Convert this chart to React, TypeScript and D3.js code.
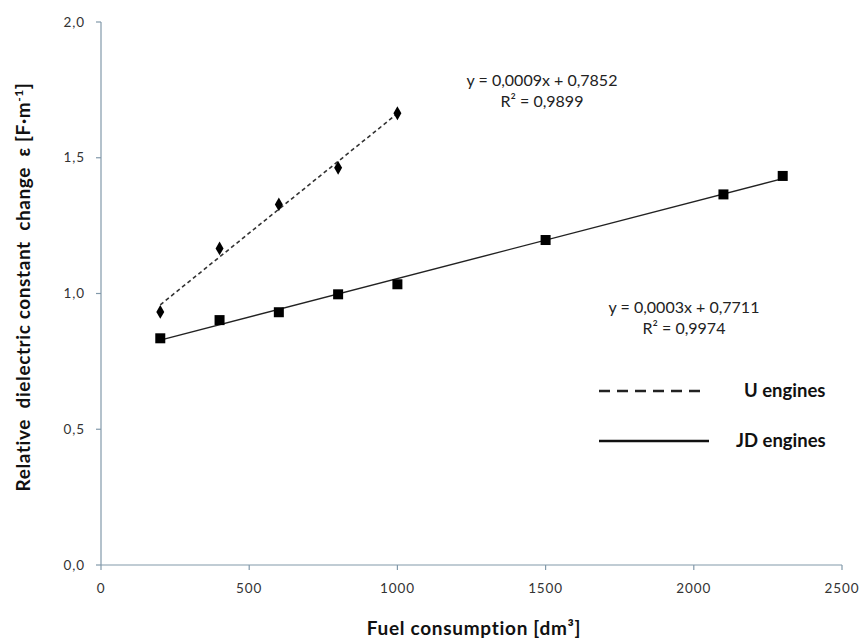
import React from 'react';
import * as d3 from 'd3';

// U engines (diamonds)
const uFuel = [200, 400, 600, 800, 1000];
const uEps = [0.932, 1.166, 1.328, 1.463, 1.664];

// JD engines (squares)
const jdFuel = [200, 400, 600, 800, 1000, 1500, 2100, 2300];
const jdEps = [0.835, 0.902, 0.931, 0.997, 1.034, 1.197, 1.365, 1.433];

const xTicks = [0, 500, 1000, 1500, 2000, 2500];
const yTicks = [0, 0.5, 1.0, 1.5, 2.0];

const uEquation = ['y = 0,0009x + 0,7852', 'R² = 0,9899'];
const jdEquation = ['y = 0,0003x + 0,7711', 'R² = 0,9974'];

const W = 861;
const H = 641;
const font = 'Lato, "Open Sans", sans-serif';
const axisColor = '#8299aa';

// least squares fit for the trend lines
function fit(xs: number[], ys: number[]) {
  const mx = d3.mean(xs)!;
  const my = d3.mean(ys)!;
  const sxy = d3.sum(xs, (x, i) => (x - mx) * (ys[i] - my));
  const sxx = d3.sum(xs, (x) => (x - mx) ** 2);
  const slope = sxy / sxx;
  return { slope, intercept: my - slope * mx };
}

export default function App() {
  const x = d3.scaleLinear().domain([0, 2500]).range([101, 842]);
  const y = d3.scaleLinear().domain([0, 2]).range([565, 22]);

  const uFit = fit(uFuel, uEps);
  const jdFit = fit(jdFuel, jdEps);

  const trend = (f: { slope: number; intercept: number }, xs: number[]) =>
    d3
      .line<number>()
      .x((d) => x(d))
      .y((d) => y(f.slope * d + f.intercept))([xs[0], xs[xs.length - 1]])!;

  const diamond = d3.symbol(d3.symbolDiamond, 55)()!;
  const fmt = (v: number) => v.toFixed(1).replace('.', ',');

  return (
    <svg width={W} height={H} style={{ position: 'absolute', left: 0, top: 0, background: '#fff' }}>
      {/* axes */}
      <line x1={x(0)} x2={x(0)} y1={y(0)} y2={y(2)} stroke={axisColor} strokeWidth={1.2} />
      <line x1={x(0)} x2={x(2500)} y1={y(0)} y2={y(0)} stroke={axisColor} strokeWidth={1.2} />
      {yTicks.map((t) => (
        <g key={'y' + t}>
          <line x1={x(0) - 5} x2={x(0)} y1={y(t)} y2={y(t)} stroke={axisColor} strokeWidth={1.2} />
          <text
            x={85}
            y={y(t)}
            dy="0.35em"
            textAnchor="end"
            fontFamily={font}
            fontSize={13.5}
            letterSpacing={0.9}
            fill="#333"
          >
            {fmt(t)}
          </text>
        </g>
      ))}
      {xTicks.map((t) => (
        <g key={'x' + t}>
          <line x1={x(t)} x2={x(t)} y1={y(0)} y2={y(0) + 5} stroke={axisColor} strokeWidth={1.2} />
          <text
            x={x(t)}
            y={593}
            textAnchor="middle"
            fontFamily={font}
            fontSize={13.5}
            letterSpacing={0.9}
            fill="#333"
          >
            {t}
          </text>
        </g>
      ))}

      {/* trend lines */}
      <path d={trend(uFit, uFuel)} stroke="#333" strokeWidth={1.6} strokeDasharray="4,3" fill="none" />
      <path d={trend(jdFit, jdFuel)} stroke="#222" strokeWidth={1.4} fill="none" />

      {/* markers */}
      {uFuel.map((f, i) => (
        <path key={'u' + i} d={diamond} transform={`translate(${x(f)},${y(uEps[i])})`} fill="#000" />
      ))}
      {jdFuel.map((f, i) => (
        <rect key={'j' + i} x={x(f) - 5} y={y(jdEps[i]) - 5} width={10} height={10} fill="#000" />
      ))}

      {/* equations */}
      {uEquation.map((s, i) => (
        <text key={'ue' + i} x={542} y={86 + i * 21} textAnchor="middle" fontFamily={font} fontSize={16} fill="#222">
          {s}
        </text>
      ))}
      {jdEquation.map((s, i) => (
        <text key={'je' + i} x={684} y={313 + i * 21} textAnchor="middle" fontFamily={font} fontSize={16} fill="#222">
          {s}
        </text>
      ))}

      {/* legend */}
      <line x1={599} x2={702} y1={391} y2={391} stroke="#222" strokeWidth={2.5} strokeDasharray="11,7" />
      <text x={744} y={391} dy="0.35em" fontFamily={font} fontSize={18.5} fontWeight="bold" fill="#111">
        U engines
      </text>
      <line x1={599} x2={709} y1={441} y2={441} stroke="#111" strokeWidth={2.5} />
      <text x={736} y={441} dy="0.35em" fontFamily={font} fontSize={18.5} fontWeight="bold" fill="#111">
        JD engines
      </text>

      {/* axis titles */}
      <text
        x={474}
        y={635}
        textAnchor="middle"
        fontFamily={font}
        fontSize={19}
        letterSpacing={0.7}
        fontWeight="bold"
        fill="#111"
      >
        Fuel consumption [dm³]
      </text>
      <text
        transform="translate(30,287) rotate(-90)"
        textAnchor="middle"
        fontFamily={font}
        fontSize={19}
        letterSpacing={0.6}
        fontWeight="bold"
        fill="#111"
        xmlSpace="preserve"
      >
        {'Relative  dielectric constant  change  ε [F·m'}
        <tspan dy={-7} fontSize={12}>-1</tspan>
        <tspan dy={7}>]</tspan>
      </text>
    </svg>
  );
}
